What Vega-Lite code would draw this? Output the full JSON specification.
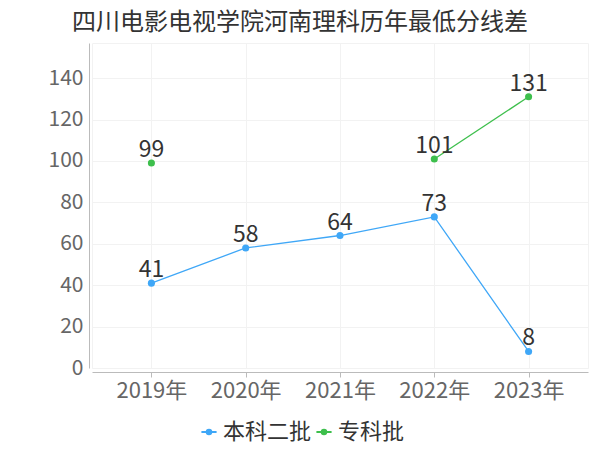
{
  "$schema": "https://vega.github.io/schema/vega-lite/v6.json",
  "width": 496,
  "height": 325,
  "autosize": {"type": "none"},
  "padding": {"left": 92, "top": 43, "right": 12, "bottom": 82},
  "background": "white",
  "config": {
    "font": "Noto Sans CJK SC",
    "view": {"stroke": "#f2f2f2"}
  },
  "title": {
    "text": "四川电影电视学院河南理科历年最低分线差",
    "fontSize": 24,
    "fontWeight": "normal",
    "color": "#333333",
    "anchor": "middle",
    "dx": -40,
    "offset": -16,
    "baseline": "bottom"
  },
  "data": {
    "values": [
      {"year": "2019年", "type": "本科二批", "value": 41},
      {"year": "2020年", "type": "本科二批", "value": 58},
      {"year": "2021年", "type": "本科二批", "value": 64},
      {"year": "2022年", "type": "本科二批", "value": 73},
      {"year": "2023年", "type": "本科二批", "value": 8},
      {"year": "2019年", "type": "专科批", "value": 99},
      {"year": "2020年", "type": "专科批", "value": null},
      {"year": "2021年", "type": "专科批", "value": null},
      {"year": "2022年", "type": "专科批", "value": 101},
      {"year": "2023年", "type": "专科批", "value": 131}
    ]
  },
  "encoding": {
    "x": {
      "field": "year", "type": "ordinal",
      "scale": {"type": "point", "padding": 0.63},
      "axis": {
        "title": null, "labelAngle": 0, "labelFontSize": 22, "labelColor": "#666666",
        "domainColor": "#bbbbbb", "tickColor": "#bbbbbb", "tickSize": 5, "labelPadding": 3,
        "offset": 4, "gridColor": "#f2f2f2", "grid": true
      }
    },
    "y": {
      "field": "value", "type": "quantitative",
      "scale": {"domain": [0, 157], "nice": false},
      "axis": {
        "title": null, "values": [0, 20, 40, 60, 80, 100, 120, 140],
        "labelFontSize": 21, "labelColor": "#666666", "ticks": false, "labelPadding": 6,
        "domainColor": "#bbbbbb", "offset": 3, "gridColor": "#f2f2f2"
      }
    },
    "color": {
      "field": "type", "type": "nominal",
      "scale": {"domain": ["本科二批", "专科批"], "range": ["#3fa7f7", "#3dbf4c"]},
      "legend": {
        "title": null, "orient": "none", "direction": "horizontal",
        "legendX": 106, "legendY": 378,
        "labelFontSize": 22, "labelColor": "#333333",
        "symbolType": "M -1 0 L 1 0 M 0.3 0 A 0.3 0.3 0 1 1 -0.3 0 A 0.3 0.3 0 1 1 0.3 0 Z",
        "symbolSize": 230, "symbolStrokeWidth": 2, "labelOffset": 3, "columnPadding": 0
      }
    }
  },
  "layer": [
    {"mark": {"type": "line", "strokeWidth": 1.3, "invalid": "break-paths-filter-domains"}},
    {"mark": {"type": "point", "filled": true, "size": 50, "opacity": 1}},
    {
      "mark": {"type": "text", "fontSize": 23, "baseline": "bottom", "dy": -1, "color": "#333333"},
      "encoding": {"text": {"field": "value", "type": "quantitative"}, "color": {"value": "#333333"}}
    }
  ]
}
